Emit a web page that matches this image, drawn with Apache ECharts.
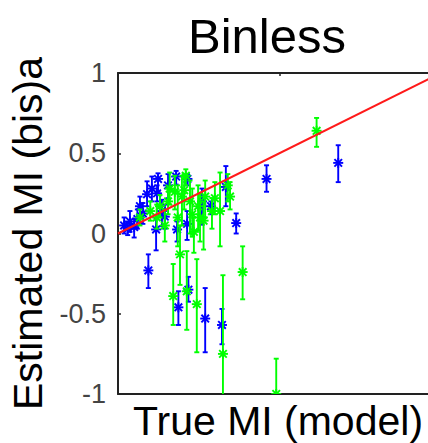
<!DOCTYPE html>
<html>
<head>
<meta charset="utf-8">
<script src="https://cdn.jsdelivr.net/npm/echarts@6/dist/echarts.min.js"></script>
<style>
  html, body { margin: 0; padding: 0; background: #fff; }
  #chart { width: 428px; height: 443px; }
</style>
</head>
<body>
<div id="chart"></div>
<script>
// Estimated vs true mutual information, two estimator groups with error bars.
const yTicks = [-1, -0.5, 0, 0.5, 1];
const xTicks = [0.5];
const xMax = 0.96;

const blueTrue = [0.019, 0.037, 0.050, 0.068, 0.077, 0.090, 0.105, 0.124, 0.118, 0.136, 0.094, 0.180, 0.215, 0.218,
                  0.187, 0.270, 0.322, 0.334, 0.366, 0.460, 0.682, 0.214, 0.260, 0.288, 0.183, 0.121, 0.145,
                  0.060, 0.030, 0.155];
const blueEst  = [0.050, 0.075, 0.040, 0.170, 0.125, 0.245, 0.280, 0.340, 0.025, 0.140, -0.230, 0.355, 0.340, -0.350,
                  -0.460, -0.530, -0.570, 0.290, 0.065, 0.340, 0.440, 0.060, 0.200, 0.170, 0.025, 0.250, 0.105,
                  0.090, 0.030, 0.300];
const blueLow  = [0.000, 0.010, -0.025, 0.105, 0.060, 0.170, 0.200, 0.260, -0.105, 0.045, -0.340, 0.305, 0.300, -0.425,
                  -0.570, -0.740, -0.690, 0.170, 0.000, 0.260, 0.320, -0.040, 0.055, 0.120, -0.050, 0.200, 0.030,
                  0.030, -0.010, 0.220];
const blueHigh = [0.100, 0.140, 0.090, 0.230, 0.190, 0.325, 0.355, 0.375, 0.095, 0.210, -0.130, 0.390, 0.370, -0.270,
                  -0.360, -0.340, -0.470, 0.420, 0.125, 0.425, 0.550, 0.140, 0.280, 0.200, 0.075, 0.300, 0.180,
                  0.150, 0.070, 0.370];

const greenTrue = [0.615, 0.490, 0.386, 0.325, 0.171, 0.192, 0.213, 0.244, 0.068, 0.100, 0.130, 0.155, 0.176, 0.198,
                   0.223, 0.248, 0.270, 0.291, 0.316, 0.347, 0.145, 0.235, 0.210, 0.254,
                   0.160, 0.185, 0.205, 0.230, 0.265, 0.300, 0.340, 0.120];
const greenEst  = [0.640, -1.000, -0.240, -0.750, -0.390, -0.130, -0.360, -0.440, 0.100, 0.140, 0.170, 0.200, 0.260, 0.230,
                   0.200, 0.170, 0.230, 0.140, 0.140, 0.230, 0.050, 0.010, 0.360, 0.100,
                   0.280, 0.100, 0.270, 0.120, 0.080, 0.220, 0.300, 0.100];
const greenLow  = [0.540, -1.250, -0.410, -1.100, -0.570, -0.320, -0.600, -0.740, 0.050, 0.080, 0.100, 0.120, 0.150, 0.050,
                   0.000, 0.020, 0.100, 0.030, -0.080, 0.150, -0.050, -0.120, 0.300, -0.050,
                   0.180, -0.080, 0.150, -0.020, -0.100, 0.120, 0.200, 0.030];
const greenHigh = [0.720, -0.780, -0.080, -0.260, -0.190, 0.050, -0.110, -0.160, 0.150, 0.200, 0.240, 0.280, 0.360, 0.360,
                   0.330, 0.300, 0.330, 0.220, 0.380, 0.320, 0.150, 0.100, 0.400, 0.250,
                   0.380, 0.300, 0.370, 0.280, 0.200, 0.320, 0.370, 0.180];

const identity = [[0, 0], [1, 1]];

function rows(xs, ys, lo, hi) {
  return xs.map((x, i) => [x, ys[i], lo[i], hi[i]]);
}

// Vertical error bar with end caps and an asterisk marker at the estimate.
function renderErrorStar(params, api) {
  const x = api.value(0);
  const p = api.coord([x, api.value(1)]);
  const pl = api.coord([x, api.value(2)]);
  const ph = api.coord([x, api.value(3)]);
  const color = api.visual('color');
  const cap = 2.5, s = 5, d = 3.8;
  const st = { stroke: color, lineWidth: 1.9 };
  const seg = (x1, y1, x2, y2) => ({ type: 'line', shape: { x1, y1, x2, y2 }, style: st });
  return {
    type: 'group',
    children: [
      seg(ph[0], ph[1], pl[0], pl[1]),
      seg(ph[0] - cap, ph[1], ph[0] + cap, ph[1]),
      seg(pl[0] - cap, pl[1], pl[0] + cap, pl[1]),
      seg(p[0] - s, p[1], p[0] + s, p[1]),
      seg(p[0] - d, p[1] - d, p[0] + d, p[1] + d),
      seg(p[0] - d, p[1] + d, p[0] + d, p[1] - d),
      seg(p[0], p[1] - s, p[0], p[1] + s)
    ]
  };
}

const font = "'Liberation Sans', Arial, Helvetica, sans-serif";
const frame = { show: true, onZero: false, lineStyle: { color: '#222', width: 2 } };
const tick = { show: true, inside: true, length: 3, lineStyle: { color: '#222', width: 1.5 } };

const chart = echarts.init(document.getElementById('chart'), null, { renderer: 'svg' });
chart.setOption({
  animation: false,
  backgroundColor: '#fff',
  title: {
    text: 'Binless',
    left: 183,
    top: 6,
    textStyle: { fontFamily: font, fontSize: 49, fontWeight: 'normal', color: '#000' }
  },
  grid: { left: 118, top: 73, right: 0, bottom: 49, containLabel: false, outerBoundsMode: 'none' },
  xAxis: [{
    type: 'value', min: 0, max: xMax,
    name: 'True MI (model)', nameLocation: 'middle', nameGap: 6,
    nameTextStyle: { fontFamily: font, fontSize: 41, color: '#000', padding: [0, 0, 0, 10] },
    axisLine: frame, axisTick: { show: false },
    axisLabel: { show: false }, splitLine: { show: false }
  }, {
    type: 'value', position: 'top', min: 0, max: xMax,
    axisLine: frame,
    axisTick: Object.assign({ customValues: xTicks }, tick),
    axisLabel: { show: false }, splitLine: { show: false }
  }],
  yAxis: {
    type: 'value', min: yTicks[0], max: yTicks[yTicks.length - 1], interval: 0.5,
    name: 'Estimated MI (bis)a', nameLocation: 'middle', nameGap: 45,
    nameTextStyle: { fontFamily: font, fontSize: 41, color: '#000' },
    axisLine: frame,
    axisTick: tick,
    axisLabel: { fontFamily: font, fontSize: 27, color: '#444', margin: 12, customValues: yTicks },
    splitLine: { show: false }
  },
  series: [{
    type: 'custom', name: 'blue', renderItem: renderErrorStar, clip: true,
    itemStyle: { color: '#0000ff' },
    encode: { x: 0, y: 1 },
    data: rows(blueTrue, blueEst, blueLow, blueHigh)
  }, {
    type: 'custom', name: 'green', renderItem: renderErrorStar, clip: true,
    itemStyle: { color: '#00ff00' },
    encode: { x: 0, y: 1 },
    data: rows(greenTrue, greenEst, greenLow, greenHigh)
  }, {
    type: 'line', data: identity, symbol: 'none', clip: true,
    lineStyle: { color: '#ff1a1a', width: 2 }, z: 5
  }]
});
</script>
</body>
</html>
